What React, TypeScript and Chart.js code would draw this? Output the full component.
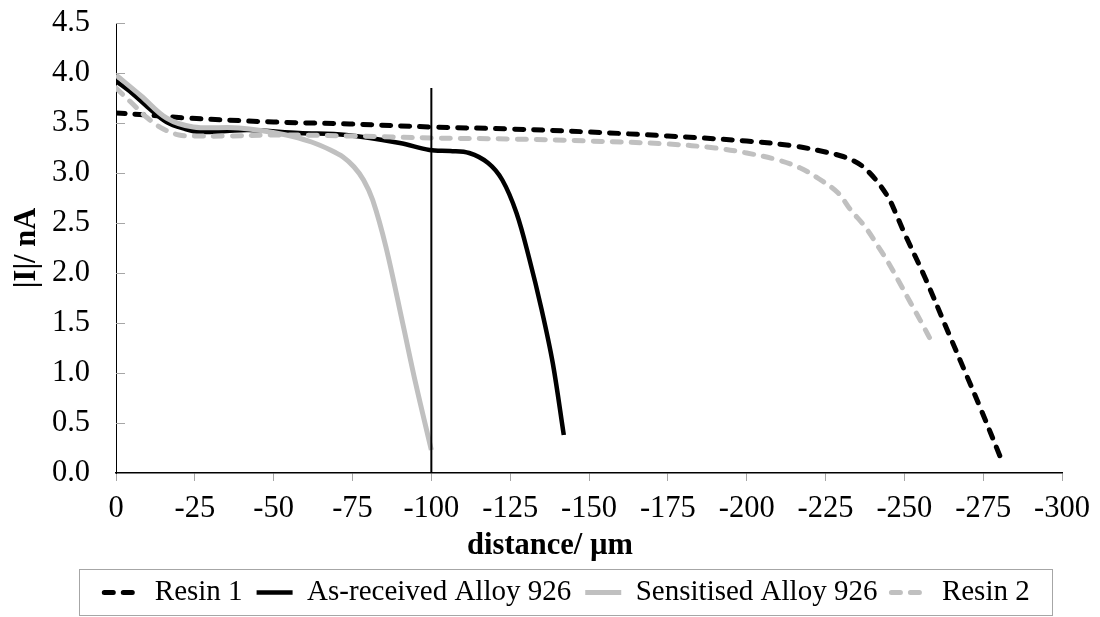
import React, { useEffect, useRef } from 'react';
import { Chart, registerables } from 'chart.js';

Chart.register(...registerables);

// ---- Data ----
const seriesNames = ['Resin 1', 'As-received Alloy 926', 'Sensitised Alloy 926', 'Resin 2'];

const resin1X = [0, -10, -22, -50, -74, -100, -125, -150, -175, -200, -215, -225, -230, -234, -237, -241, -245, -247.5, -250, -256.6, -264, -269, -274.5, -280.3];
const resin1Y = [3.6, 3.58, 3.55, 3.51, 3.49, 3.46, 3.44, 3.41, 3.37, 3.32, 3.27, 3.21, 3.17, 3.12, 3.06, 2.93, 2.75, 2.58, 2.4, 1.95, 1.4, 1.03, 0.62, 0.17];

const asReceivedX = [0, -5, -10, -16, -22, -26.6, -35, -42, -58, -73, -90, -99.4, -106, -112, -118, -122.5, -127, -131, -135, -138.5, -142];
const asReceivedY = [3.92, 3.8, 3.66, 3.51, 3.44, 3.41, 3.42, 3.43, 3.4, 3.38, 3.3, 3.23, 3.22, 3.2, 3.1, 2.93, 2.6, 2.15, 1.63, 1.1, 0.38];

const sensitisedX = [0, -8, -16, -24.5, -39, -54, -62, -68, -72, -75.5, -78.5, -81.4, -85.6, -90.9, -95, -100];
const sensitisedY = [3.98, 3.77, 3.55, 3.46, 3.45, 3.38, 3.31, 3.23, 3.16, 3.06, 2.93, 2.73, 2.26, 1.5, 0.9, 0.23];

const resin2X = [0, -5, -10, -15, -20, -25, -35, -50, -75, -100, -125, -150, -175, -190, -200, -210, -217, -223, -229, -233, -237.6, -241.8, -245, -248, -252, -255.5, -259.2];
const resin2Y = [3.85, 3.7, 3.55, 3.44, 3.38, 3.37, 3.37, 3.38, 3.37, 3.35, 3.34, 3.32, 3.29, 3.25, 3.2, 3.13, 3.05, 2.94, 2.8, 2.63, 2.46, 2.26, 2.1, 1.93, 1.7, 1.5, 1.28];

const markerX = [-100, -100];
const markerY = [3.85, 0];

const xMin = -300;
const xMax = 0;
const xStep = 25;
const yMin = 0;
const yMax = 4.5;
const yStep = 0.5;

const xTitle = 'distance/ µm';
const yTitle = '|I|/ nA';

const zip = (xs: number[], ys: number[]) => xs.map((x, i) => ({ x, y: ys[i] }));

const FONT = 'Liberation Serif';
const GREY = '#c0c0c0';
const TICK_GREY = '#a6a6a6';
const TICK_FONT = 30.5;
const LEGEND_FONT = 29;
const LEGEND_CENTER_X = 567;

const innerYTicks = {
  id: 'innerYTicks',
  beforeDatasetsDraw(chart: any) {
    const y = chart.scales.y;
    const { ctx, chartArea } = chart;
    ctx.save();
    ctx.strokeStyle = TICK_GREY;
    ctx.lineWidth = 1;
    y.ticks.forEach((t: any) => {
      if (t.value === 0) return;
      const py = Math.round(y.getPixelForValue(t.value)) + 0.5;
      ctx.beginPath();
      ctx.moveTo(chartArea.left, py);
      ctx.lineTo(chartArea.left + 9, py);
      ctx.stroke();
    });
    ctx.restore();
  },
};

const axisTitles = {
  id: 'axisTitles',
  afterDraw(chart: any) {
    const { ctx, chartArea } = chart;
    const xs = chart.scales.x;
    ctx.save();
    ctx.fillStyle = '#000';
    ctx.font = `bold ${TICK_FONT}px "${FONT}"`;
    ctx.textAlign = 'center';
    ctx.textBaseline = 'middle';
    ctx.fillText(xTitle, chart.width / 2, xs.bottom - 18);
    ctx.translate(27, (chartArea.top + chartArea.bottom) / 2);
    ctx.rotate(-Math.PI / 2);
    ctx.fillText(yTitle, 0, 0);
    ctx.restore();
  },
};

const legendFrame = {
  id: 'legendFrame',
  beforeDraw(chart: any) {
    const lg = chart.legend;
    if (!lg) return;
    const d = LEGEND_CENTER_X - (lg.left + lg.right) / 2;
    if (Math.abs(d) > 0.01) {
      lg.left += d;
      lg.right += d;
      lg.adjustHitBoxes();
    }
  },
  afterDraw(chart: any) {
    const lg = chart.legend;
    if (!lg || !lg.legendHitBoxes || !lg.legendHitBoxes.length) return;
    const boxes = lg.legendHitBoxes;
    let minL = Infinity;
    let maxR = -Infinity;
    boxes.forEach((b: any) => {
      minL = Math.min(minL, b.left);
      maxR = Math.max(maxR, b.left + b.width);
    });
    const { ctx } = chart;
    ctx.save();
    ctx.strokeStyle = TICK_GREY;
    ctx.lineWidth = 1;
    const x0 = Math.round(minL - 25) + 0.5;
    const x1 = Math.round(maxR + 22) + 0.5;
    const y0 = Math.round(lg.top + 5) + 0.5;
    const y1 = Math.round(lg.bottom - 1) - 0.5;
    ctx.strokeRect(x0, y0, x1 - x0, y1 - y0);
    ctx.restore();
  },
};

export default function App() {
  const ref = useRef<HTMLCanvasElement | null>(null);

  useEffect(() => {
    if (!ref.current) return;
    Chart.defaults.font.family = FONT;
    Chart.defaults.color = '#000';

    const lineCommon = {
      pointRadius: 0,
      pointHoverRadius: 0,
      fill: false,
      tension: 0.35,
      borderWidth: 5,
    };

    const chart = new Chart(ref.current, {
      type: 'line',
      data: {
        datasets: [
          {
            ...lineCommon,
            label: seriesNames[0],
            data: zip(resin1X, resin1Y),
            borderColor: '#000',
            backgroundColor: '#000',
            borderDash: [9, 10],
            borderCapStyle: 'round',
            order: 3,
          },
          {
            ...lineCommon,
            label: seriesNames[1],
            data: zip(asReceivedX, asReceivedY),
            borderColor: '#000',
            backgroundColor: '#000',
            borderWidth: 4.5,
            order: 2,
          },
          {
            ...lineCommon,
            label: seriesNames[2],
            data: zip(sensitisedX, sensitisedY),
            borderColor: GREY,
            backgroundColor: GREY,
            order: 1,
          },
          {
            ...lineCommon,
            label: seriesNames[3],
            data: zip(resin2X, resin2Y),
            borderColor: GREY,
            backgroundColor: GREY,
            borderDash: [9, 10],
            borderCapStyle: 'round',
            order: 0,
          },
          {
            label: 'marker',
            data: zip(markerX, markerY),
            borderColor: '#000',
            backgroundColor: '#000',
            borderWidth: 2,
            pointRadius: 0,
            tension: 0,
            order: -1,
          },
        ],
      } as any,
      options: {
        animation: false,
        responsive: false,
        maintainAspectRatio: false,
        parsing: false as any,
        events: [],
        layout: { padding: { top: 23, right: 36, left: 0, bottom: 0 } },
        plugins: {
          tooltip: { enabled: false },
          legend: {
            display: true,
            position: 'bottom',
            labels: {
              usePointStyle: true,
              pointStyle: 'line',
              pointStyleWidth: 36,
              boxWidth: 36,
              padding: 14,
              color: '#000',
              font: { family: FONT, size: LEGEND_FONT },
              filter: (item: any) => item.datasetIndex !== 4,
              sort: (a: any, b: any) => a.datasetIndex - b.datasetIndex,
              generateLabels: (chart: any) => {
                const base = Chart.defaults.plugins.legend.labels.generateLabels(chart);
                return base.map((item: any) => {
                  const ds = chart.data.datasets[item.datasetIndex];
                  return {
                    ...item,
                    pointStyle: 'line',
                    strokeStyle: ds.borderColor,
                    fillStyle: ds.borderColor,
                    lineWidth: ds.borderWidth,
                    lineDash: ds.borderDash || [],
                    lineCap: ds.borderCapStyle || 'butt',
                  };
                });
              },
            },
          },
        },
        scales: {
          x: {
            type: 'linear',
            min: xMin,
            max: xMax,
            reverse: true,
            afterFit: (s: any) => {
              s.height = 91;
            },
            ticks: {
              stepSize: xStep,
              color: '#000',
              font: { family: FONT, size: TICK_FONT },
              padding: 10,
              maxRotation: 0,
              autoSkip: false,
            },
            grid: {
              drawOnChartArea: false,
              drawTicks: true,
              tickLength: 8,
              color: TICK_GREY,
              lineWidth: 1,
            },
            border: { display: true, color: '#000', width: 1.5 },
            title: { display: false },
          },
          y: {
            type: 'linear',
            min: yMin,
            max: yMax,
            afterFit: (s: any) => {
              s.width = 116;
            },
            ticks: {
              stepSize: yStep,
              color: '#000',
              font: { family: FONT, size: TICK_FONT },
              padding: 0,
              callback: (v: any) => Number(v).toFixed(1),
            },
            grid: {
              drawOnChartArea: false,
              drawTicks: true,
              tickLength: 26,
              tickColor: 'rgba(0,0,0,0)',
              color: 'rgba(0,0,0,0)',
            },
            border: { display: true, color: '#000', width: 1 },
            title: { display: false },
          },
        },
      } as any,
      plugins: [innerYTicks, axisTitles, legendFrame],
    });

    return () => {
      chart.destroy();
    };
  }, []);

  return (
    <div style={{ position: 'fixed', left: 0, top: 0, width: 1100, height: 617, background: '#fff' }}>
      <canvas ref={ref} width={1100} height={617} />
    </div>
  );
}
